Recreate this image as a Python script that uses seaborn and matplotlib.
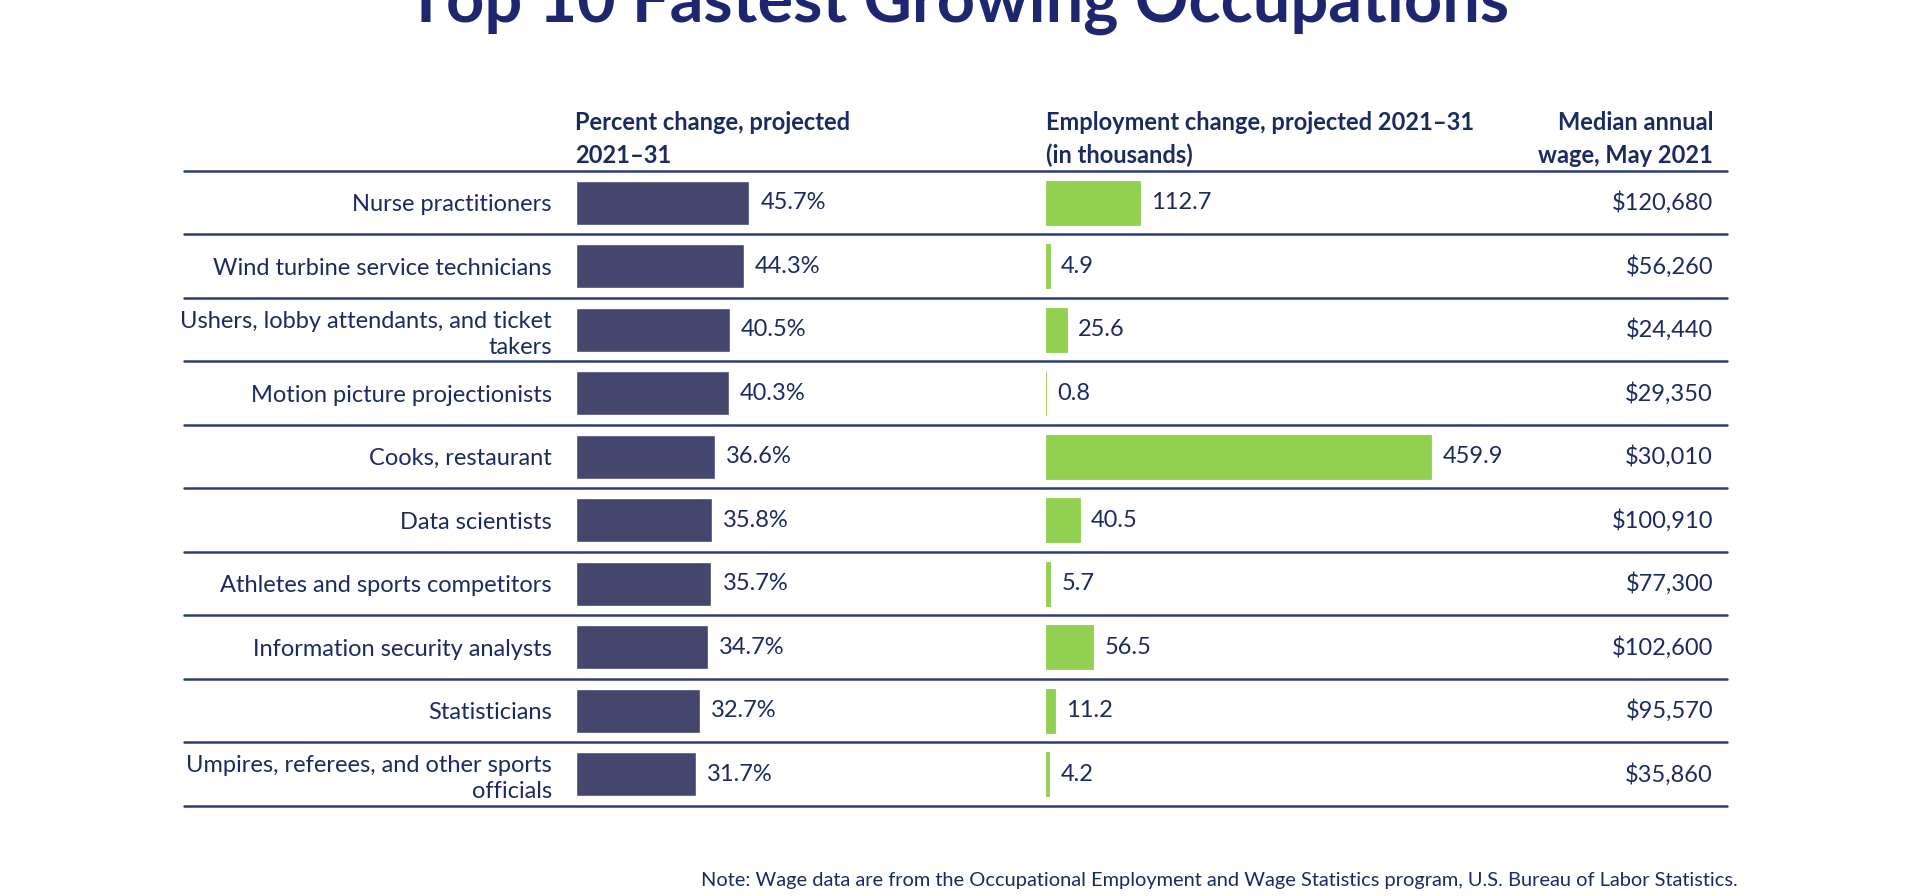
import pandas as pd
import seaborn as sns
from matplotlib import pyplot as plt

occupations = ['Nurse practitioners', 'Wind turbine service technicians',
               'Ushers, lobby attendants, and ticket\ntakers', 'Motion picture projectionists',
               'Cooks, restaurant', 'Data scientists', 'Athletes and sports competitors',
               'Information security analysts', 'Statisticians',
               'Umpires, referees, and other sports\nofficials']
pct_change = [45.7, 44.3, 40.5, 40.3, 36.6, 35.8, 35.7, 34.7, 32.7, 31.7]
emp_change = [112.7, 4.9, 25.6, 0.8, 459.9, 40.5, 5.7, 56.5, 11.2, 4.2]
wages = [120680, 56260, 24440, 29350, 30010, 100910, 77300, 102600, 95570, 35860]

df = pd.DataFrame({'Occupation': occupations, 'Percent': pct_change, 'Employment': emp_change})

sns.set_theme(style='white')
plt.rcParams['font.family'] = ['Lato', 'DejaVu Sans']

navy = '#1C2A62'
fs = 17
W, H = 1920, 896
fig = plt.figure(figsize=(19.2, 8.96), dpi=100)

# background axes in pixel coordinates for lines and text
base = fig.add_axes([0, 0, 1, 1])
base.set_xlim(0, W)
base.set_ylim(H, 0)
base.axis('off')

top, bottom = 171, 806
row_h = (bottom - top) / len(occupations)


def bar_axes(x0, x1, px_per_unit):
    ax = fig.add_axes([x0 / W, (H - bottom) / H, (x1 - x0) / W, (bottom - top) / H])
    ax.set_facecolor('none')
    ax.set_xlim(0, (x1 - x0) / px_per_unit)
    return ax


ax1 = bar_axes(575.5, 1000, 3.805)
sns.barplot(data=df, y='Occupation', x='Percent', color='#44466E', saturation=1,
            width=0.7, orient='h', ax=ax1)
ax1.set_xlim(0, (1000 - 575.5) / 3.805)
ax1.bar_label(ax1.containers[0], fmt='%.1f%%', padding=8, fontsize=fs, color=navy)
ax1.tick_params(axis='y', length=0, pad=17, labelsize=fs, labelcolor=navy)
ax1.set_xticks([])
ax1.set_xlabel('')
ax1.set_ylabel('')

ax2 = bar_axes(1045.7, 1500, 0.8387)
sns.barplot(data=df, y='Occupation', x='Employment', color='#92D050', saturation=1,
            width=0.7, orient='h', edgecolor='#92D050', linewidth=0.6, ax=ax2)
ax2.set_xlim(0, (1500 - 1045.7) / 0.8387)
ax2.bar_label(ax2.containers[0], fmt='%.1f', padding=8, fontsize=fs, color=navy)
ax2.set_yticks([])
ax2.set_xticks([])
ax2.set_xlabel('')
ax2.set_ylabel('')

for ax in (ax1, ax2):
    sns.despine(ax=ax, left=True, bottom=True)

for ln in ax1.get_yticklabels():
    ln.set_linespacing(1.3)

# row separators
for i in range(len(occupations) + 1):
    y = top + i * row_h
    base.plot([184, 1727], [y, y], color='#2E3C78', lw=1.8)

# wages column
for i, w in enumerate(wages):
    base.text(1713, top + (i + 0.5) * row_h, f'${w:,}', ha='right', va='center',
              fontsize=fs, color=navy)

# headers
hdr = dict(fontsize=fs, fontweight='bold', color=navy, va='baseline')
base.text(575, 130, 'Percent change, projected', ha='left', **hdr)
base.text(575, 163, '2021\u201331', ha='left', **hdr)
base.text(1046, 130, 'Employment change, projected 2021\u201331', ha='left', **hdr)
base.text(1046, 163, '(in thousands)', ha='left', **hdr)
base.text(1713, 130, 'Median annual', ha='right', **hdr)
base.text(1713, 163, 'wage, May 2021', ha='right', **hdr)

base.text(958, 22, 'Top 10 Fastest Growing Occupations', ha='center', va='baseline',
          fontsize=48, fontweight='bold', color='#1F2670')

base.text(1738, 886, 'Note: Wage data are from the Occupational Employment and Wage Statistics '
          'program, U.S. Bureau of Labor Statistics.', ha='right', va='baseline',
          fontsize=14.4, color=navy)

plt.savefig('out.png', dpi=100)
